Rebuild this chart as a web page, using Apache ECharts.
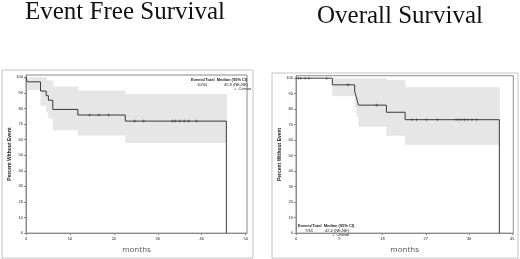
<!DOCTYPE html>
<html><head><meta charset="utf-8">
<script src="https://cdn.jsdelivr.net/npm/echarts@6/dist/echarts.min.js"></script>
<style>html,body{margin:0;padding:0;background:#fff}#c{width:520px;height:259px}</style>
</head><body><div id="c"></div>
<script>
// ---- Data ----
const titles = ['Event Free Survival', 'Overall Survival'];
const yTicks = [0, 10, 20, 30, 40, 50, 60, 70, 80, 90, 100];
const efsXTicks = [0, 10, 20, 30, 40, 50];
const osXTicks = [0, 9, 18, 27, 36, 45];

const efsTime = [0, 0.3, 3.3, 4.6, 5.1, 6.1, 11.8, 22.6, 45.6, 45.6];
const efsSurv = [100, 97.1, 91.2, 88.2, 85.3, 79.4, 75.8, 71.9, 71.9, 0];
const efsBandStart = [0.3, 3.3, 4.6, 5.1, 6.1, 11.8, 22.6];
const efsBandEnd   = [3.3, 4.6, 5.1, 6.1, 11.8, 22.6, 45.6];
const efsBandLow   = [91.8, 81.7, 77.5, 73.4, 66.1, 62.6, 57.8];
const efsBandHigh  = [100, 100, 98, 98, 94.1, 91.6, 89.3];
const efsCensorTime = [14.5, 16.6, 18.8, 24.7, 26.8, 33.3, 34, 35, 36, 37, 38.8];
const efsCensorSurv = [75.8, 75.8, 75.8, 71.9, 71.9, 71.9, 71.9, 71.9, 71.9, 71.9, 71.9];

const osTime = [0, 7.55, 12.2, 12.6, 13.0, 18.8, 22.7, 42.3, 42.3];
const osSurv = [100, 95.7, 91.5, 87.2, 82.6, 78.0, 73.2, 73.2, 0];
const osBandStart = [7.55, 12.2, 12.6, 13.0, 18.8, 22.7];
const osBandEnd   = [12.2, 12.6, 13.0, 18.8, 22.7, 42.3];
const osBandLow   = [88.4, 81, 75, 68.6, 62.9, 57];
const osBandHigh  = [100, 100, 100, 100, 98.9, 94.2];
const osCensorTime = [0.5, 1.0, 1.9, 2.7, 6.4, 10.8, 16.8, 24.1, 25.1, 27.1, 29.4, 33.3, 33.9, 34.5, 35.0, 35.7, 36.6, 37.6];
const osCensorSurv = [100, 100, 100, 100, 100, 95.7, 82.6, 73.2, 73.2, 73.2, 73.2, 73.2, 73.2, 73.2, 73.2, 73.2, 73.2, 73.2];

const efsLegend = ['Events/Total  Median (95% CI)', '10/34', '45.8 (NE-NE)', '+  Censor'];
const osLegend = ['Events/Total  Median (95% CI)', '7/34', '42.4 (NE-NE)', '+  Censor'];

// ---- Helpers ----
const zip = (a, b) => a.map((v, i) => [v, b[i]]);
const bandData = (s, e, l, h) => s.map((v, i) => [v, e[i], l[i], h[i]]);
const LINE = '#3a3a3a', BAND = '#e6e6e6', AXIS = '#8a8a8a';
const PLUS = 'path://M4,0h2v10h-2zM0,4h10v2h-10z';

function bandSeries(idx, data) {
  return {
    type: 'custom', xAxisIndex: idx, yAxisIndex: idx, silent: true, z: 1,
    data: data, encode: { x: [0, 1], y: [2, 3] },
    renderItem: (params, api) => {
      const p1 = api.coord([api.value(0), api.value(3)]);
      const p2 = api.coord([api.value(1), api.value(2)]);
      return { type: 'rect', shape: { x: p1[0], y: p1[1], width: p2[0] - p1[0] + 0.5, height: p2[1] - p1[1] },
               style: { fill: BAND } };
    }
  };
}
function xAxis(idx, max, ticks) {
  return {
    type: 'value', gridIndex: idx, min: 0, max: max,
    name: 'months', nameLocation: 'middle', nameGap: 6,
    nameTextStyle: { fontSize: 8, color: '#555', fontFamily: 'Open Sans' },
    axisLine: { lineStyle: { color: AXIS, width: 1 } },
    axisTick: { length: 2, lineStyle: { color: AXIS }, customValues: ticks },
    axisLabel: { fontSize: 4, color: '#222', margin: 4, customValues: ticks },
    splitLine: { show: false }
  };
}
function yAxis(idx, max) {
  return {
    type: 'value', gridIndex: idx, min: 0, max: max,
    name: 'Percent Without Event', nameLocation: 'middle', nameGap: 14, nameRotate: 90,
    nameTextStyle: { fontSize: 5, color: '#222', fontWeight: 'bold' },
    axisLine: { show: true, lineStyle: { color: AXIS, width: 1 } },
    axisTick: { show: true, length: 2, lineStyle: { color: AXIS }, customValues: yTicks },
    axisLabel: { fontSize: 4, color: '#222', margin: 3, customValues: yTicks },
    splitLine: { show: false }
  };
}
function legendText(x, y, str, bold) {
  return { type: 'text', x: x, y: y, style: { text: str, fontSize: 4, fill: '#222', fontWeight: bold ? 'bold' : 'normal', fontFamily: 'Arial' } };
}

const chart = echarts.init(document.getElementById('c'), null, { renderer: 'canvas' });
chart.setOption({
  animation: false,
  title: [
    { text: titles[0], left: 25, top: 0, padding: 0, textStyle: { fontFamily: 'Liberation Serif', fontSize: 25, fontWeight: 'normal', color: '#111' } },
    { text: titles[1], left: 317, top: 4, padding: 0, textStyle: { fontFamily: 'Liberation Serif', fontSize: 25, fontWeight: 'normal', color: '#111' } }
  ],
  grid: [
    { left: 26, top: 75, right: 273, bottom: 21.3, show: true, borderColor: AXIS, borderWidth: 1 },
    { left: 296, top: 75.7, right: 6.7, bottom: 21.7, show: true, borderColor: AXIS, borderWidth: 1 }
  ],
  xAxis: [xAxis(0, 50.3, efsXTicks), xAxis(1, 45.2, osXTicks)],
  yAxis: [yAxis(0, 101.5), yAxis(1, 101.6)],
  graphic: [
    { type: 'rect', shape: { x: 2, y: 70, width: 251, height: 188 }, style: { fill: 'none', stroke: '#c4c4c4', lineWidth: 1 }, silent: true },
    { type: 'rect', shape: { x: 272, y: 73, width: 246, height: 185 }, style: { fill: 'none', stroke: '#c4c4c4', lineWidth: 1 }, silent: true },
    legendText(191, 78, efsLegend[0], true),
    legendText(197, 83, efsLegend[1]),
    legendText(224, 83, efsLegend[2]),
    legendText(234, 87, efsLegend[3]),
    legendText(298, 224, osLegend[0], true),
    legendText(305, 228.5, osLegend[1]),
    legendText(325, 228.5, osLegend[2]),
    legendText(332, 233, osLegend[3])
  ],
  series: [
    bandSeries(0, bandData(efsBandStart, efsBandEnd, efsBandLow, efsBandHigh)),
    { type: 'line', xAxisIndex: 0, yAxisIndex: 0, step: 'end', data: zip(efsTime, efsSurv), showSymbol: false, z: 3,
      lineStyle: { color: LINE, width: 1 } },
    { type: 'scatter', xAxisIndex: 0, yAxisIndex: 0, data: zip(efsCensorTime, efsCensorSurv), symbol: PLUS, symbolSize: 3, z: 4,
      itemStyle: { color: '#333' } },
    bandSeries(1, bandData(osBandStart, osBandEnd, osBandLow, osBandHigh)),
    { type: 'line', xAxisIndex: 1, yAxisIndex: 1, step: 'end', data: zip(osTime, osSurv), showSymbol: false, z: 3,
      lineStyle: { color: LINE, width: 1 } },
    { type: 'scatter', xAxisIndex: 1, yAxisIndex: 1, data: zip(osCensorTime, osCensorSurv), symbol: PLUS, symbolSize: 3, z: 4,
      itemStyle: { color: '#333' } }
  ]
});
</script></body></html>
